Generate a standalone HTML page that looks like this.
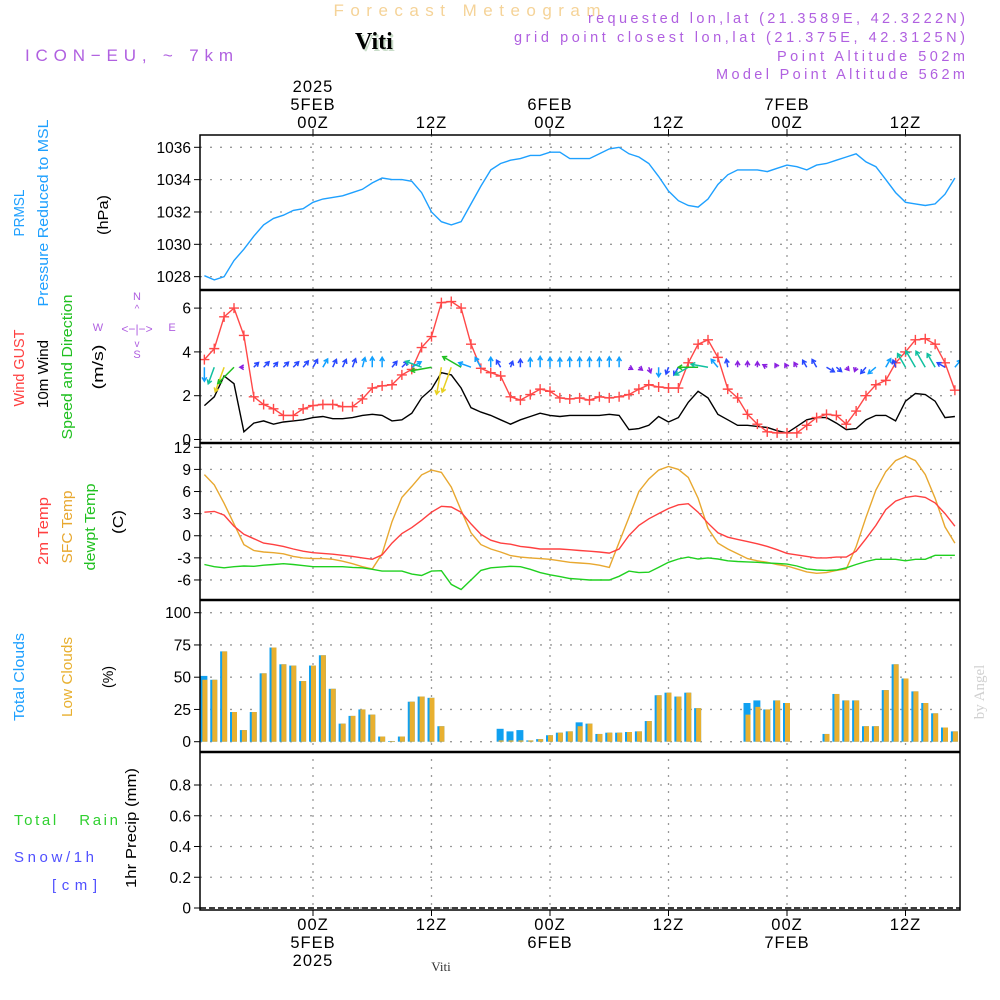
<!DOCTYPE html>
<html><head><meta charset="utf-8"><style>
html,body{margin:0;padding:0;background:#fff;}
svg{display:block;font-family:"Liberation Sans",sans-serif;}
</style></head><body>
<svg id="chart" width="1000" height="1000" viewBox="0 0 1000 1000" xmlns="http://www.w3.org/2000/svg">
<rect x="0" y="0" width="1000" height="1000" fill="#fff"/>
<text x="467" y="16" text-anchor="middle" font-size="17" fill="#f5d398" textLength="267" lengthAdjust="spacing">Forecast Meteogram</text>
<text x="355" y="49" font-family="Liberation Serif,serif" font-weight="bold" font-size="24" fill="#c8dcc8" transform="translate(2,2)">Viti</text>
<text x="355" y="49" font-family="Liberation Serif,serif" font-weight="bold" font-size="24" fill="#000">Viti</text>
<text x="25" y="61" font-size="17" fill="#b060e0" textLength="208" lengthAdjust="spacing">ICON−EU, ~ 7km</text>
<g font-size="14.5" fill="#b060e0">
<text x="588" y="23" textLength="377" lengthAdjust="spacing">requested lon,lat (21.3589E, 42.3222N)</text>
<text x="514" y="42" textLength="451" lengthAdjust="spacing">grid point closest lon,lat (21.375E, 42.3125N)</text>
<text x="777" y="61" textLength="188" lengthAdjust="spacing">Point Altitude 502m</text>
<text x="716" y="79" textLength="249" lengthAdjust="spacing">Model Point Altitude 562m</text>
</g>
<g id="left-labels" font-size="15">
<text transform="translate(24,213) rotate(-90)" text-anchor="middle" fill="#1ea0ff" textLength="47" lengthAdjust="spacingAndGlyphs">PRMSL</text>
<text transform="translate(48,213) rotate(-90)" text-anchor="middle" fill="#1ea0ff" textLength="187" lengthAdjust="spacingAndGlyphs">Pressure Reduced to MSL</text>
<text transform="translate(108,215) rotate(-90)" text-anchor="middle" fill="#000" textLength="40" lengthAdjust="spacingAndGlyphs">(hPa)</text>
<text transform="translate(24,368) rotate(-90)" text-anchor="middle" fill="#ff4040" textLength="77" lengthAdjust="spacingAndGlyphs">Wind GUST</text>
<text transform="translate(48,374) rotate(-90)" text-anchor="middle" fill="#000" textLength="68" lengthAdjust="spacingAndGlyphs">10m Wind</text>
<text transform="translate(72,367) rotate(-90)" text-anchor="middle" fill="#20c020" textLength="145" lengthAdjust="spacingAndGlyphs">Speed and Direction</text>
<text transform="translate(103,367) rotate(-90)" text-anchor="middle" fill="#000" textLength="45" lengthAdjust="spacingAndGlyphs">(m/s)</text>
<text transform="translate(48,531) rotate(-90)" text-anchor="middle" fill="#ff4040" textLength="68" lengthAdjust="spacingAndGlyphs">2m Temp</text>
<text transform="translate(72,527) rotate(-90)" text-anchor="middle" fill="#e8a830" textLength="73" lengthAdjust="spacingAndGlyphs">SFC Temp</text>
<text transform="translate(95,527) rotate(-90)" text-anchor="middle" fill="#20c020" textLength="87" lengthAdjust="spacingAndGlyphs">dewpt Temp</text>
<text transform="translate(123,522) rotate(-90)" text-anchor="middle" fill="#000" textLength="24" lengthAdjust="spacingAndGlyphs">(C)</text>
<text transform="translate(24,677) rotate(-90)" text-anchor="middle" fill="#1ea0ff" textLength="88" lengthAdjust="spacingAndGlyphs">Total Clouds</text>
<text transform="translate(72,677) rotate(-90)" text-anchor="middle" fill="#e8b030" textLength="80" lengthAdjust="spacingAndGlyphs">Low Clouds</text>
<text transform="translate(113,677) rotate(-90)" text-anchor="middle" fill="#000" textLength="22" lengthAdjust="spacingAndGlyphs">(%)</text>
<text transform="translate(136,828) rotate(-90)" text-anchor="middle" fill="#000" textLength="120" lengthAdjust="spacingAndGlyphs">1hr Precip (mm)</text>
<text x="14" y="825" fill="#30d030" textLength="104" lengthAdjust="spacing">Total&#160;&#160;&#160;Rain</text>
<text x="14" y="862" fill="#5050ff" textLength="80" lengthAdjust="spacing">Snow/1h</text>
<text x="52" y="890" fill="#5050ff" textLength="45" lengthAdjust="spacing">[cm]</text>
</g>
<g fill="#b060e0" font-size="11" text-anchor="middle">
<text x="137" y="300">N</text><text x="137" y="358">S</text><text x="98" y="331">W</text><text x="172" y="331">E</text>
<text x="137" y="333" font-size="12">&lt;−|−&gt;</text>
<text x="137" y="312" font-size="10">^</text><text x="137" y="347" font-size="10">v</text>
</g>
<text transform="translate(984,692) rotate(-90)" text-anchor="middle" font-family="Liberation Serif,serif" font-size="15" fill="#d0d0d0">by Angel</text>
<text x="441" y="971" text-anchor="middle" font-family="Liberation Serif,serif" font-size="13" fill="#333">Viti</text>
<g id="plot"></g>
</svg>
<script>
const hours = [];
for (let h = -11; h <= 65; h++) hours.push(h);
const pressure = [1028.06,1027.8,1028.0,1029.0,1029.7,1030.5,1031.2,1031.6,1031.8,1032.1,1032.2,
1032.6,1032.8,1032.9,1033.0,1033.2,1033.4,1033.8,1034.1,1034.0,1034.0,
1033.9,1033.2,1032.0,1031.4,1031.2,1031.4,1032.5,1033.6,1034.6,1035.0,
1035.2,1035.3,1035.5,1035.5,1035.7,1035.7,1035.3,1035.3,1035.3,1035.6,
1035.9,1036.0,1035.6,1035.4,1035.0,1034.2,1033.3,1032.7,1032.4,1032.3,
1032.8,1033.7,1034.3,1034.6,1034.6,1034.6,1034.5,1034.7,1034.9,1034.8,
1034.6,1034.9,1035.0,1035.2,1035.4,1035.6,1035.1,1034.8,1034.0,1033.2,
1032.6,1032.5,1032.4,1032.5,1033.1,1034.1];
const gust = [3.65,4.15,5.6,6.0,4.75,1.95,1.6,1.4,1.1,1.1,1.4,
1.55,1.6,1.6,1.5,1.5,1.85,2.35,2.45,2.5,2.95,
3.2,4.2,4.7,6.25,6.3,6.0,4.35,3.25,3.05,2.9,
1.95,1.8,2.05,2.3,2.2,1.9,1.85,1.9,1.8,1.95,
1.9,1.95,2.05,2.3,2.5,2.4,2.35,2.35,3.5,4.35,
4.55,3.75,2.3,1.9,1.15,0.7,0.35,0.3,0.3,0.3,
0.65,1.0,1.15,1.1,0.7,1.3,2.0,2.5,2.7,3.5,
4.0,4.55,4.6,4.35,3.5,2.25];
const windSpeed = [1.55,1.95,2.9,2.55,0.35,0.75,0.85,0.7,0.8,0.85,0.9,
1.0,1.05,0.95,0.95,1.0,1.1,1.15,1.1,0.85,0.9,
1.2,1.9,2.3,3.05,2.95,2.35,1.45,1.25,1.1,0.9,
0.7,0.9,1.05,1.2,1.1,1.05,1.1,1.1,1.1,1.1,
1.15,1.1,0.45,0.5,0.65,1.05,0.8,1.0,1.7,2.2,
1.9,1.15,0.9,0.65,0.65,0.6,0.55,0.4,0.3,0.6,
0.9,1.0,1.0,0.75,0.45,0.5,0.9,1.1,1.1,0.85,
1.75,2.1,2.05,1.75,1.0,1.05];
const windDir = [180,200,200,225,270,45,45,40,45,45,40,
30,30,25,25,20,15,0,0,40,45,
60,290,260,190,200,300,290,330,0,330,
20,0,0,0,0,0,0,0,0,0,
0,0,120,130,160,180,200,210,240,270,
280,320,350,0,0,0,300,330,330,330,
330,330,120,130,140,200,220,230,30,340,
330,330,330,330,300,40];
const temp2m = [3.2,3.3,2.8,1.3,0.2,-0.4,-1.0,-1.2,-1.45,-1.8,-2.1,
-2.3,-2.4,-2.5,-2.65,-2.8,-3.0,-3.2,-2.6,-1.0,0.3,
1.1,2.1,3.2,4.0,3.9,3.2,1.6,0.2,-0.6,-1.0,
-1.15,-1.45,-1.6,-1.8,-1.8,-1.8,-1.9,-2.0,-2.1,-2.2,
-2.35,-1.8,0.05,1.4,2.3,3.0,3.7,4.2,4.35,3.2,
1.7,0.4,-0.2,-0.5,-0.8,-1.1,-1.45,-1.9,-2.4,-2.6,
-2.8,-3.0,-3.0,-2.9,-2.9,-2.1,-0.4,1.4,3.55,4.7,
5.2,5.4,5.2,4.45,3.0,1.3];
const sfcTemp = [8.3,6.9,4.4,1.6,-1.2,-2.0,-2.2,-2.3,-2.45,-2.8,-3.0,
-3.1,-3.1,-3.2,-3.45,-3.8,-4.2,-4.5,-2.45,1.9,5.2,
6.7,8.25,8.9,8.6,6.6,3.45,0.4,-1.2,-1.8,-2.2,
-2.7,-2.9,-3.0,-3.1,-3.2,-3.4,-3.6,-3.7,-3.8,-4.0,
-4.3,-0.9,2.5,6.0,7.7,8.9,9.4,9.0,7.9,5.1,
1.0,-1.0,-1.8,-2.45,-3.1,-3.4,-3.6,-3.9,-4.1,-4.5,
-4.9,-5.1,-5.0,-4.7,-4.5,-1.5,2.5,6.2,8.7,10.2,
10.8,10.2,8.3,5.1,1.2,-1.0];
const dewpt = [-3.9,-4.2,-4.35,-4.2,-4.1,-4.15,-4.0,-3.9,-3.8,-3.9,-4.05,
-4.2,-4.2,-4.2,-4.2,-4.3,-4.35,-4.55,-4.8,-4.8,-4.8,
-5.2,-5.4,-4.8,-4.75,-6.6,-7.3,-6.0,-4.7,-4.35,-4.25,
-4.15,-4.2,-4.55,-5.0,-5.3,-5.55,-5.8,-5.9,-6.0,-6.0,
-6.0,-5.5,-4.8,-5.0,-4.95,-4.3,-3.6,-3.15,-2.9,-3.15,
-3.0,-3.15,-3.4,-3.5,-3.55,-3.6,-3.7,-3.75,-3.85,-4.1,
-4.5,-4.65,-4.7,-4.65,-4.35,-3.9,-3.5,-3.2,-3.2,-3.2,
-3.4,-3.2,-3.2,-2.65,-2.65,-2.65];
const totalClouds = [51,48,70,23,9,23,53,73,60,59,47,
59,67,41,14,20,25,21,4,0.5,4,
31,35,34,12,0,0,0,0,0,10,
8,9,1,2,5,7,8,15,14,6,
7,7,7.5,8,16,36,38,35,38,26,
0,0,0,0,30,32,25,32,30,0,
0,0,6,37,32,32,12,12,40,60,
49,39,30,22,11,8];
const lowClouds = [48,48,70,23,9,23,53,73,60,59,47,
59,67,41,14,20,25,21,4,0.5,4,
31,35,34,12,0,0,0,0,0,1,
1,1,1,2,5,7,8,12,14,6,
7,7,7.5,8,16,36,38,35,38,26,
0,0,0,0,21,27,25,32,30,0,
0,0,6,37,32,32,12,12,40,60,
49,39,30,22,11,8];
const precip = new Array(77).fill(0);
const pressureTicks = [1028,1030,1032,1034,1036];
const windTicks = [0,2,4,6];
const tempTicks = [-6,-3,0,3,6,9,12];
const cloudTicks = [0,25,50,75,100];
const precipTicks = [0,0.2,0.4,0.6,0.8];
const timeTicks = [0,12,24,36,48,60];
const timeLabelsZ = ["00Z","12Z","00Z","12Z","00Z","12Z"];
const dayLabels = {0:"5FEB",24:"6FEB",48:"7FEB"};

const NS = "http://www.w3.org/2000/svg";
const plot = document.getElementById('plot');
const X0 = 200, X1 = 960;
const xT = h => 313 + h * 9.875;
const yP = v => 147.3 + (1036 - v) * 16.17;
const yW = v => 439.5 - v * 21.9;
const yT = v => 447.3 + (12 - v) * 7.37;
const yC = v => 741.7 - v * 1.29;
const yR = v => 908 - v * 153.75;

function el(tag, attrs, parent) {
  const e = document.createElementNS(NS, tag);
  for (const k in attrs) e.setAttribute(k, attrs[k]);
  (parent || plot).appendChild(e);
  return e;
}
const clip = el('clipPath', {id: 'pc'});
el('rect', {x: X0, y: 135, width: X1 - X0, height: 775}, clip);

const grid = el('g', {});


function hgrid(ticks, f, top, bot) {
  ticks.forEach(t => {
    const y = f(t);
    if (y > top + 1 && y < bot - 1) el('line', {x1: X0, x2: X1, y1: y, y2: y, stroke: '#999', 'stroke-width': 1.3, 'stroke-dasharray': '2,8'}, grid);
  });
}
hgrid(pressureTicks, yP, 135, 290);
hgrid(windTicks, yW, 290, 443);
hgrid(tempTicks, yT, 443, 600);
hgrid(cloudTicks, yC, 600, 752);
hgrid(precipTicks, yR, 752, 912);
timeTicks.forEach(h => {
  el('line', {x1: xT(h), x2: xT(h), y1: 135, y2: 910, stroke: '#999', 'stroke-width': 1.3, 'stroke-dasharray': '2,6'}, grid);
});

function yAxis(ticks, f, name) {
  const g = el('g', {});
  
  
  ticks.forEach(t => {
    const y = f(t);
    el('line', {x1: 194, x2: 200, y1: y, y2: y, stroke: '#000', 'stroke-width': 1}, g);
    const tx = el('text', {x: 191, y: y + 5.5, 'text-anchor': 'end', 'font-size': 15.5, fill: '#000'}, g);
    tx.textContent = String(t);
  });
}
yAxis(pressureTicks, yP, 'pressure-y-axis');
yAxis(windTicks, yW, 'wind-y-axis');
yAxis(tempTicks, yT, 'temp-y-axis');
yAxis(cloudTicks, yC, 'cloud-y-axis');
yAxis(precipTicks, yR, 'precip-y-axis');

const cg = el('g', {'clip-path': 'url(#pc)'});


hours.forEach((h, i) => {
  const x = xT(h);
  if (totalClouds[i] > 0) {
    const b = el('rect', {x: x - 4, y: yC(totalClouds[i]), width: 7, height: yC(0) - yC(totalClouds[i]), fill: '#10a0f0'}, cg);
    
    
  }
  if (lowClouds[i] > 0) {
    const b2 = el('rect', {x: x - 2, y: yC(lowClouds[i]), width: 5, height: yC(0) - yC(lowClouds[i]), fill: '#e8b030'}, cg);
    
    
  }
  if (precip[i] > 0) {
    const b3 = el('rect', {x: x - 3, y: yR(precip[i]), width: 6, height: yR(0) - yR(precip[i]), fill: '#30d030'}, cg);
    
    
  }
});

function line(vals, f, color, name) {
  const pts = hours.map((h, i) => xT(h).toFixed(1) + ',' + f(vals[i]).toFixed(1)).join(' ');
  const p = el('polyline', {points: pts, fill: 'none', stroke: color, 'stroke-width': 1.4, 'clip-path': 'url(#pc)'});
  
  
  return p;
}
line(pressure, yP, '#1ea0ff', 'pressure-line');
line(windSpeed, yW, '#000', 'wind-speed-line');
line(gust, yW, '#ff4848', 'wind-gust-line');
line(sfcTemp, yT, '#e8a830', 'sfc-temp-line');
line(temp2m, yT, '#ff4040', 'temp-2m-line');
line(dewpt, yT, '#20d020', 'dewpoint-line');

const gm = el('g', {stroke: '#ff4848', 'stroke-width': 1.4, 'clip-path': 'url(#pc)'});


hours.forEach((h, i) => {
  const x = xT(h), y = yW(gust[i]);
  el('path', {d: `M${x-5},${y}H${x+5}M${x},${y-5}V${y+5}`}, gm);
});

function arrowColor(s) {
  if (s < 0.7) return '#8a20e0';
  if (s < 1.05) return '#2848ff';
  if (s < 1.7) return '#10a0ff';
  if (s < 2.2) return '#10c0a0';
  if (s < 2.8) return '#20c020';
  return '#e8d020';
}
const ag = el('g', {'clip-path': 'url(#pc)', 'stroke-width': 1.5, fill: 'none'});


const yA = yW(3.3);
hours.forEach((h, i) => {
  const x = xT(h), s = windSpeed[i];
  const L = Math.max(4, 9 * s);
  const a = windDir[i] * Math.PI / 180;
  const dx = Math.sin(a), dy = -Math.cos(a);
  const x2 = x + dx * L, y2 = yA + dy * L;
  const hl = 4.5;
  const a1 = a + Math.PI - 0.55, a2 = a + Math.PI + 0.55;
  const c = arrowColor(s);
  const p = el('path', {d: `M${x},${yA}L${x2},${y2}M${x2 + Math.sin(a1) * hl},${y2 - Math.cos(a1) * hl}L${x2},${y2}L${x2 + Math.sin(a2) * hl},${y2 - Math.cos(a2) * hl}`, stroke: c}, ag);
  
  
});

el('line', {x1: X0, x2: X1, y1: yR(0), y2: yR(0), stroke: '#000', 'stroke-width': 1.5, 'stroke-dasharray': '6,3'});

const fr = el('g', {fill: 'none', stroke: '#000'});


el('rect', {x: X0, y: 135, width: X1 - X0, height: 775, 'stroke-width': 1.5}, fr);
[290, 443, 600, 752].forEach(y => el('line', {x1: X0, x2: X1, y1: y, y2: y, 'stroke-width': 2.5}, fr));

const ta = el('g', {'font-size': 16.5, 'text-anchor': 'middle', fill: '#000', 'letter-spacing': 1});


timeTicks.forEach((h, i) => {
  const x = xT(h);
  el('line', {x1: x, x2: x, y1: 129, y2: 135, stroke: '#000'}, ta);
  el('line', {x1: x, x2: x, y1: 910, y2: 916, stroke: '#000'}, ta);
  const t1 = el('text', {x: x, y: 128}, ta); t1.textContent = timeLabelsZ[i];
  const t2 = el('text', {x: x, y: 930}, ta); t2.textContent = timeLabelsZ[i];
  if (dayLabels[h]) {
    const d1 = el('text', {x: x, y: 110}, ta); d1.textContent = dayLabels[h];
    const d2 = el('text', {x: x, y: 948}, ta); d2.textContent = dayLabels[h];
  }
  if (h === 0) {
    const y1 = el('text', {x: x, y: 92}, ta); y1.textContent = '2025';
    const y2 = el('text', {x: x, y: 966}, ta); y2.textContent = '2025';
  }
});
</script>
</body></html>
